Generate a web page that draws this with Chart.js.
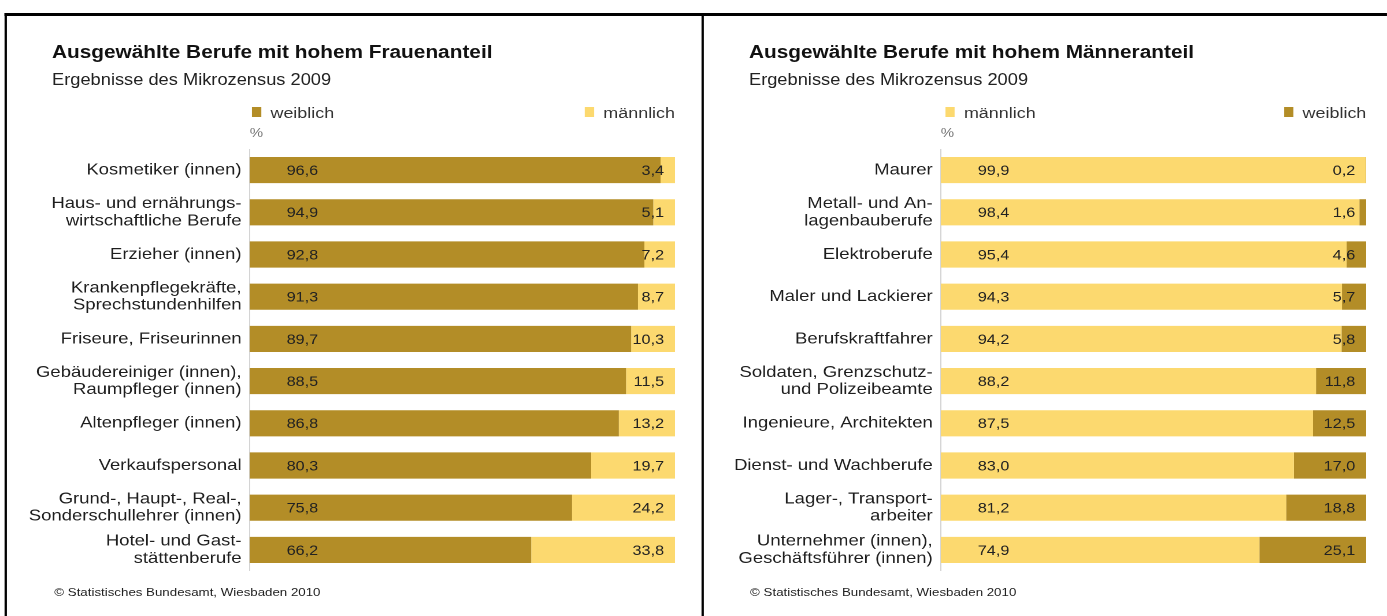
<!DOCTYPE html>
<html lang="de">
<head>
<meta charset="utf-8">
<title>Ausgewählte Berufe</title>
<script src="https://cdn.jsdelivr.net/npm/chart.js@4.4.1/dist/chart.umd.min.js"></script>
<style>
  html, body { margin: 0; padding: 0; background: #fff; overflow: hidden; }
  body { width: 1387px; height: 616px; }
  #page {
    position: absolute; left: 0; top: 0;
    width: 1200px; height: 616px;
    transform: scaleX(1.1558); transform-origin: 0 0;
    font-family: "Liberation Sans", Arial, sans-serif;
    color: #1a1a1a;
  }
  .line { position: absolute; background: #000; }
  .title { position: absolute; font-size: 18px; font-weight: bold; line-height: 18px; white-space: nowrap; color: #111; }
  .sub { position: absolute; font-size: 15.8px; line-height: 16px; white-space: nowrap; color: #222; }
  .leg { position: absolute; font-size: 15.5px; line-height: 16px; white-space: nowrap; color: #333; }
  .leg i { position: absolute; left: -16px; top: 2px; width: 8px; height: 10px; }
  .pct { position: absolute; font-size: 13px; line-height: 14px; color: #777; }
  .foot { position: absolute; font-size: 11.5px; line-height: 12px; white-space: nowrap; color: #222; }
  canvas { position: absolute; }
</style>
</head>
<body>
<div id="page">
  <div class="line" style="left:4px; top:13px; width:1196px; height:3px;"></div>
  <div class="line" style="left:4px; top:13px; width:2px; height:603px;"></div>
  <div class="line" style="left:607px; top:13px; width:2px; height:603px;"></div>

  <div class="title" style="left:45px; top:43px;">Ausgewählte Berufe mit hohem Frauenanteil</div>
  <div class="sub" style="left:45px; top:72px;">Ergebnisse des Mikrozensus 2009</div>
  <div class="leg" style="left:234px; top:105px;"><i style="background:#B38D27"></i>weiblich</div>
  <div class="leg" style="left:522px; top:105px;"><i style="background:#FCD96F"></i>männlich</div>
  <div class="pct" style="left:216px; top:126px;">%</div>
  <canvas id="chartLeft" style="left:10px; top:149px;"></canvas>
  <div class="foot" style="left:47px; top:586px;">© Statistisches Bundesamt, Wiesbaden 2010</div>

  <div class="title" style="left:648px; top:43px;">Ausgewählte Berufe mit hohem Männeranteil</div>
  <div class="sub" style="left:648px; top:72px;">Ergebnisse des Mikrozensus 2009</div>
  <div class="leg" style="left:834px; top:105px;"><i style="background:#FCD96F"></i>männlich</div>
  <div class="leg" style="left:1127px; top:105px;"><i style="background:#B38D27"></i>weiblich</div>
  <div class="pct" style="left:814px; top:126px;">%</div>
  <canvas id="chartRight" style="left:617px; top:149px;"></canvas>
  <div class="foot" style="left:649px; top:586px;">© Statistisches Bundesamt, Wiesbaden 2010</div>
</div>

<script>
'use strict';

// ******* DATA *******
let womenJobs = [
  'Kosmetiker (innen)',
  ['Haus- und ernährungs-', 'wirtschaftliche Berufe'],
  'Erzieher (innen)',
  ['Krankenpflegekräfte,', 'Sprechstundenhilfen'],
  'Friseure, Friseurinnen',
  ['Gebäudereiniger (innen),', 'Raumpfleger (innen)'],
  'Altenpfleger (innen)',
  'Verkaufspersonal',
  ['Grund-, Haupt-, Real-,', 'Sonderschullehrer (innen)'],
  ['Hotel- und Gast-', 'stättenberufe']
];
let womenJobsFemale = [96.6, 94.9, 92.8, 91.3, 89.7, 88.5, 86.8, 80.3, 75.8, 66.2];
let womenJobsMale = [3.4, 5.1, 7.2, 8.7, 10.3, 11.5, 13.2, 19.7, 24.2, 33.8];

let menJobs = [
  'Maurer',
  ['Metall- und An-', 'lagenbauberufe'],
  'Elektroberufe',
  'Maler und Lackierer',
  'Berufskraftfahrer',
  ['Soldaten, Grenzschutz-', 'und Polizeibeamte'],
  'Ingenieure, Architekten',
  'Dienst- und Wachberufe',
  ['Lager-, Transport-', 'arbeiter'],
  ['Unternehmer (innen),', 'Geschäftsführer (innen)']
];
let menJobsMale = [99.9, 98.4, 95.4, 94.3, 94.2, 88.2, 87.5, 83.0, 81.2, 74.9];
let menJobsFemale = [0.2, 1.6, 4.6, 5.7, 5.8, 11.8, 12.5, 17.0, 18.8, 25.1];

// ******* COLORS *******
let darkGold = '#B38D27';
let lightGold = '#FCD96F';

// ****** HELPERS ******
function formatValue(v) {
  return v.toFixed(1).replace('.', ',');
}

// draws the numbers inside the bars: first segment at its left, second at the right end
let valueLabels = {
  id: 'valueLabels',
  afterDatasetsDraw(chart) {
    let ctx = chart.ctx;
    ctx.save();
    ctx.font = '14px "Liberation Sans", Arial, sans-serif';
    ctx.fillStyle = '#222';
    ctx.textBaseline = 'middle';
    chart.data.datasets.forEach(function (ds, di) {
      let meta = chart.getDatasetMeta(di);
      meta.data.forEach(function (bar, i) {
        let text = formatValue(ds.data[i]);
        if (di === 0) {
          ctx.textAlign = 'left';
          ctx.fillText(text, bar.base + 32, bar.y + 1);
        } else {
          ctx.textAlign = 'right';
          ctx.fillText(text, chart.chartArea.right - 9.5, bar.y + 1);
        }
      });
    });
    ctx.restore();
  }
};

function makeChart(canvasId, labels, first, second, firstColor, secondColor, axisWidth, width) {
  let canvas = document.getElementById(canvasId);
  canvas.width = width;
  canvas.height = 422;
  canvas.style.width = width + 'px';
  canvas.style.height = '422px';

  return new Chart(canvas.getContext('2d'), {
    type: 'bar',
    data: {
      labels: labels,
      datasets: [{
        data: first,
        backgroundColor: firstColor,
        borderWidth: 0
      },
      {
        data: second,
        backgroundColor: secondColor,
        borderWidth: 0
      }]
    },
    options: {
      indexAxis: 'y',
      responsive: false,
      animation: false,
      devicePixelRatio: 2,
      layout: { padding: { left: 0, right: 16, top: 0, bottom: 0 } },
      datasets: {
        bar: { categoryPercentage: 1, barPercentage: 0.62 }
      },
      plugins: {
        legend: { display: false },
        tooltip: { enabled: false }
      },
      scales: {
        x: {
          stacked: true,
          min: 0,
          max: 100,
          display: false
        },
        y: {
          stacked: true,
          grid: { display: false, drawTicks: false },
          border: { display: true, color: '#d4d4d4', width: 1 },
          ticks: {
            color: '#1e1e1e',
            padding: 7,
            font: { family: '"Liberation Sans", Arial, sans-serif', size: 16, lineHeight: 1.07 }
          },
          afterFit: function (scale) {
            // fixed label column, and no extra room above/below the bars
            scale.width = axisWidth;
            scale.paddingTop = 0;
            scale.paddingBottom = 0;
          }
        }
      }
    },
    plugins: [valueLabels]
  });
}

// ****** EXECUTABLE CODE ********
makeChart('chartLeft', womenJobs, womenJobsFemale, womenJobsMale, darkGold, lightGold, 206, 590);
makeChart('chartRight', menJobs, menJobsMale, menJobsFemale, lightGold, darkGold, 197, 581);
</script>
</body>
</html>
